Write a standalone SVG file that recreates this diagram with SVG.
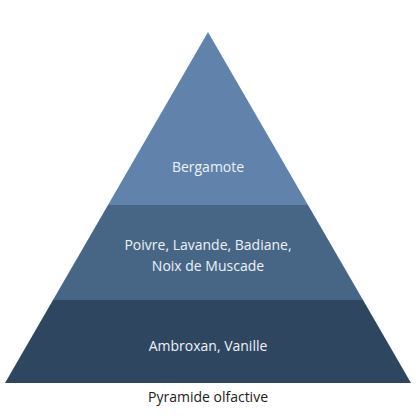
<svg xmlns="http://www.w3.org/2000/svg" width="416" height="416" viewBox="0 0 416 416">
<style>
.lbl{font-family:"Open Sans","Noto Sans",sans-serif;font-size:14px;fill:#eef2f7;text-anchor:middle}
.cap{font-family:"Open Sans","Noto Sans",sans-serif;font-size:14px;fill:#222;text-anchor:middle}
</style>
<rect width="416" height="416" fill="#fff"/>
<g id="top">
<polygon points="208,32 108,205 308,205" fill="#6183ab"/>
<text class="lbl" x="208" y="172">Bergamote</text>
</g>
<g id="middle">
<polygon points="108,205 308,205 363,300 53,300" fill="#476686"/>
<text class="lbl" x="208" y="250">Poivre, Lavande, Badiane,</text>
<text class="lbl" x="208" y="271">Noix de Muscade</text>
</g>
<g id="bottom">
<polygon points="53,300 363,300 411,383 5,383" fill="#2f4661"/>
<text class="lbl" x="208" y="351">Ambroxan, Vanille</text>
</g>
<g id="connectors"/>
<text class="cap" x="208" y="402">Pyramide olfactive</text>
</svg>
